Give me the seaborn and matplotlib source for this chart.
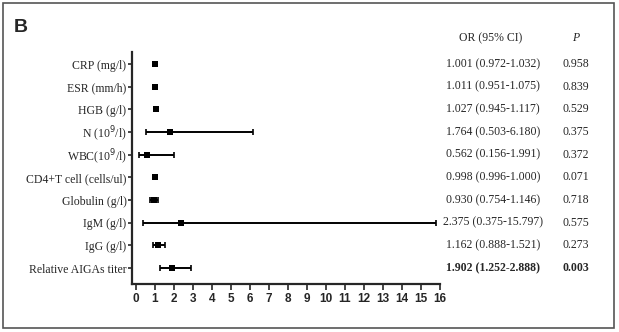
import matplotlib
matplotlib.use("Agg")
import matplotlib.pyplot as plt
import matplotlib.transforms as mtransforms
from matplotlib.patches import Rectangle
import seaborn as sns
import pandas as pd

variables = ["CRP (mg/l)", "ESR (mm/h)", "HGB (g/l)", "N (10$^{9}$/l)", "WBC(10$^{9}$/l)",
             "CD4+T cell (cells/ul)", "Globulin (g/l)", "IgM (g/l)", "IgG (g/l)",
             "Relative AIGAs titer"]
odds_ratio = [1.001, 1.011, 1.027, 1.764, 0.562, 0.998, 0.930, 2.375, 1.162, 1.902]
ci_low = [0.972, 0.951, 0.945, 0.503, 0.156, 0.996, 0.754, 0.375, 0.888, 1.252]
ci_high = [1.032, 1.075, 1.117, 6.180, 1.991, 1.000, 1.146, 15.797, 1.521, 2.888]
p_values = ["0.958", "0.839", "0.529", "0.375", "0.372", "0.071", "0.718", "0.575", "0.273", "0.003"]
or_labels = ["1.001 (0.972-1.032)", "1.011 (0.951-1.075)", "1.027 (0.945-1.117)",
             "1.764 (0.503-6.180)", "0.562 (0.156-1.991)", "0.998 (0.996-1.000)",
             "0.930 (0.754-1.146)", "2.375 (0.375-15.797)", "1.162 (0.888-1.521)",
             "1.902 (1.252-2.888)"]
x_ticks = list(range(0, 17))

sns.set_style("ticks")
serif = ["Liberation Serif", "DejaVu Serif"]
sans = ["Liberation Sans", "DejaVu Sans"]

df = pd.DataFrame({"var": variables, "or": odds_ratio, "lo": ci_low, "hi": ci_high,
                   "row": range(len(variables))})

fig = plt.figure(figsize=(6.19, 3.32), dpi=100)
ax = fig.add_axes([132 / 619, 48 / 332, (440 - 132) / 619, (284 - 52) / 332])

# confidence intervals with caps
ax.errorbar(df["or"], df["row"],
            xerr=[df["or"] - df["lo"], df["hi"] - df["or"]],
            fmt="none", ecolor="black", elinewidth=1.4, capsize=2.0, capthick=1.2, zorder=2)
sns.scatterplot(data=df, x="or", y="row", marker="s", s=20, color="black",
                edgecolor="black", linewidth=0, ax=ax, zorder=3, legend=False)

ax.set_xlim(-0.21, 16)
ax.set_ylim(9.7, -0.53)
ax.set_xticks(x_ticks)
ax.set_xticklabels([str(t) for t in x_ticks], fontfamily=sans, fontweight="bold", fontsize=8.5)
ax.set_yticks(df["row"])
ax.set_yticklabels(variables, fontfamily=serif, fontsize=8.5)
ax.set_xlabel("")
ax.set_ylabel("")
ax.tick_params(axis="x", length=4, width=1.2, pad=2.5)
ax.tick_params(axis="y", length=3, width=1.2, pad=1)
for side in ["top", "right"]:
    ax.spines[side].set_visible(False)
for side in ["left", "bottom"]:
    ax.spines[side].set_linewidth(1.6)

# table columns to the right of the plot
trans = mtransforms.blended_transform_factory(fig.transFigure, ax.transData)
for i, (lab, p) in enumerate(zip(or_labels, p_values)):
    w = "bold" if i == len(or_labels) - 1 else "normal"
    ax.text(493 / 619, i, lab, transform=trans, ha="center", va="center",
            fontfamily=serif, fontsize=8.5, fontweight=w, clip_on=False)
    ax.text(576 / 619, i, p, transform=trans, ha="center", va="center",
            fontfamily=serif, fontsize=8.5, fontweight=w, clip_on=False)

fig.text(491 / 619, 1 - 38 / 332, "OR (95% CI)", ha="center", va="center",
         fontfamily=serif, fontsize=8.5)
fig.text(576 / 619, 1 - 38 / 332, "P", ha="center", va="center",
         fontfamily=serif, fontsize=8.5, fontstyle="italic")
fig.text(14 / 619, 1 - 27 / 332, "B", ha="left", va="center",
         fontfamily=sans, fontsize=14, fontweight="bold")

fig.patches.append(Rectangle((3 / 619, 4 / 332), 611 / 619, 325 / 332,
                             transform=fig.transFigure, fill=False,
                             edgecolor="#555555", linewidth=1.2))

fig.savefig("out.png", dpi=100)
